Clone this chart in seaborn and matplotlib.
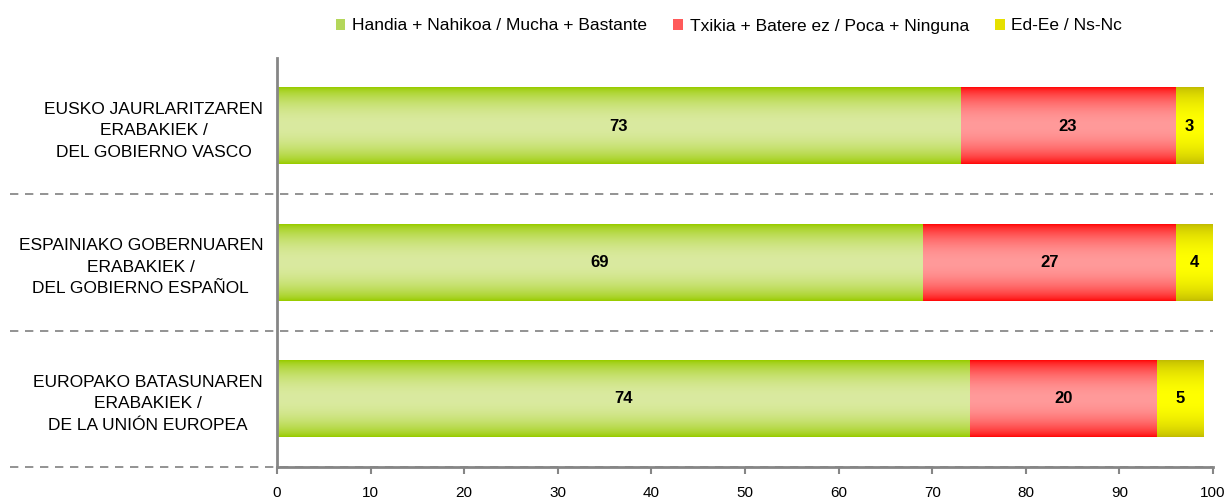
import numpy as np
import pandas as pd
import matplotlib
matplotlib.use("Agg")
import matplotlib.pyplot as plt
from matplotlib.colors import to_rgb
from matplotlib.patches import Patch
from matplotlib.lines import Line2D
import seaborn as sns

# Data
categories = ["EUSKO JAURLARITZAREN\nERABAKIEK /\nDEL GOBIERNO VASCO",
              "ESPAINIAKO GOBERNUAREN\nERABAKIEK /\nDEL GOBIERNO ESPAÑOL",
              "EUROPAKO BATASUNAREN\nERABAKIEK /\nDE LA UNIÓN EUROPEA"]
series_names = ["Handia + Nahikoa / Mucha + Bastante",
                "Txikia + Batere ez / Poca + Ninguna",
                "Ed-Ee / Ns-Nc"]
much = [73, 69, 74]
little = [23, 27, 20]
nsnc = [3, 4, 5]

# colours: (edge, centre) of the vertical gradient
grad = [("#99CC00", "#DAEAA0"), ("#FF0A0A", "#FF9A9A"), ("#C2BC00", "#FFFF00")]
legend_cols = ["#B4D75A", "#FF5A5A", "#E6E000"]

sns.set_theme(style="white")
plt.rcParams["font.family"] = ["Liberation Sans", "DejaVu Sans"]
plt.rcParams["text.color"] = "black"

fig = plt.figure(figsize=(12.28, 5.01), dpi=100)
ax = fig.add_axes([277 / 1228, 1 - 467 / 501, 936 / 1228, 409 / 501])

df = pd.DataFrame({"cat": categories, "much": much, "little": little, "nsnc": nsnc})
df["c1"] = df["much"]
df["c2"] = df["much"] + df["little"]
df["c3"] = df["c2"] + df["nsnc"]

# stacked look: draw cumulative totals, largest first
layers = ["c3", "c2", "c1"]
grads = [grad[2], grad[1], grad[0]]
for i, col in enumerate(layers):
    n0 = len(ax.patches)
    sns.barplot(data=df, x=col, y="cat", orient="h", color="white",
                width=0.56, ax=ax, zorder=2)
    for p in ax.patches[n0:]:
        x0, y0 = p.get_x(), p.get_y()
        w, h = p.get_width(), p.get_height()
        e, c = np.array(to_rgb(grads[i][0])), np.array(to_rgb(grads[i][1]))
        t = np.linspace(0, 1, 64)
        f = np.sin(np.pi * t) ** 0.7
        img = e[None, :] + (c - e)[None, :] * f[:, None]
        ax.imshow(img[:, None, :], extent=[x0, x0 + w, y0 + h, y0],
                  aspect="auto", zorder=3 + i, interpolation="bilinear")
        p.set_alpha(0)

ax.set_xlim(0, 100)
ax.set_ylim(2.5, -0.5)
ax.set_xlabel("")
ax.set_ylabel("")

# value labels
for j in range(len(categories)):
    ax.text(df["much"][j] / 2, j, str(much[j]), ha="center", va="center",
            fontsize=12, fontweight="bold", zorder=10)
    ax.text(df["c1"][j] + little[j] / 2, j, str(little[j]), ha="center", va="center",
            fontsize=12, fontweight="bold", zorder=10)
    ax.text(df["c2"][j] + nsnc[j] / 2, j, str(nsnc[j]), ha="center", va="center",
            fontsize=12, fontweight="bold", zorder=10)

# dashed separators
for yy in [0.5, 1.5, 2.5]:
    ax.add_line(Line2D([-0.285, 1.0], [yy, yy], transform=ax.get_yaxis_transform(),
                       color="#808080", lw=1.2, ls=(0, (5, 4)), clip_on=False, zorder=1))

for s in ["top", "right"]:
    ax.spines[s].set_visible(False)
for s in ["left", "bottom"]:
    ax.spines[s].set_color("#868686")
    ax.spines[s].set_linewidth(2)
    ax.spines[s].set_zorder(12)

ax.set_xticks(range(0, 101, 10))
ax.tick_params(axis="x", direction="out", length=5, width=1.5, color="#868686",
               labelsize=11, pad=9, bottom=True, labelcolor="black")
ax.tick_params(axis="y", length=0, labelsize=12.5, pad=10, labelcolor="black")
for lab in ax.get_yticklabels():
    lab.set_multialignment("center")
    lab.set_linespacing(1.55)

handles = [Patch(facecolor=legend_cols[k], edgecolor="none") for k in range(3)]
fig.legend(handles, series_names, loc="center", bbox_to_anchor=(729 / 1228, 1 - 26 / 501),
           ncol=3, frameon=False, fontsize=12.5, handlelength=0.55, handleheight=0.55,
           handletextpad=0.4, columnspacing=1.5)

fig.savefig("out.png", dpi=100)
